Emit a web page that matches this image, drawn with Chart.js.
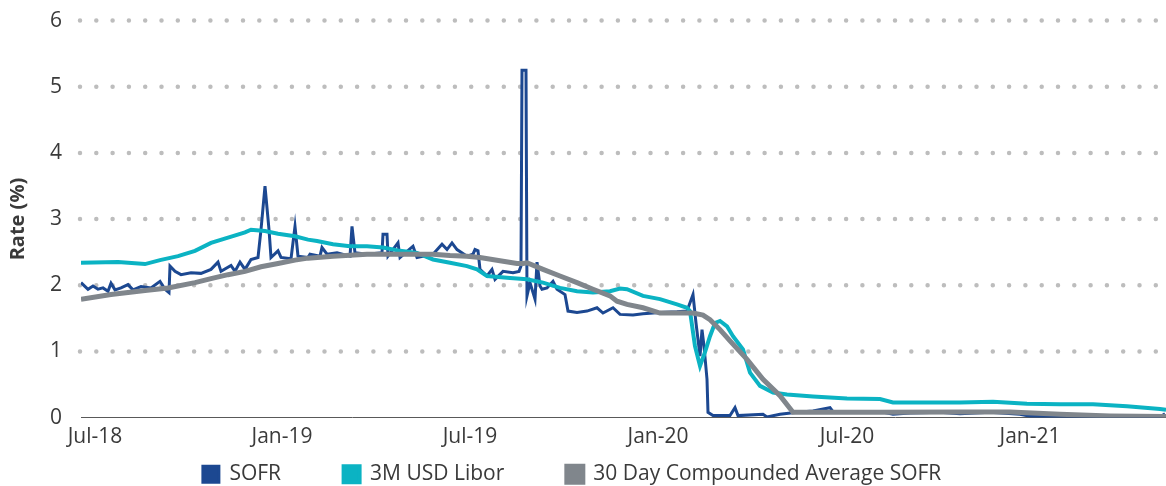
<!DOCTYPE html>
<html>
<head>
<meta charset="utf-8">
<script src="https://cdn.jsdelivr.net/npm/chart.js@4.4.1/dist/chart.umd.min.js"></script>
<style>
  html, body { margin: 0; padding: 0; background: #fff; }
  #wrap { width: 1166px; height: 486px; }
</style>
</head>
<body>
<div id="wrap"><canvas id="rates"></canvas></div>
<script>
// x values are days from the start of the axis (early Jul-18)
const tickDays = [14, 201, 389, 577, 766, 949];
const tickLabels = ['Jul-18', 'Jan-19', 'Jul-19', 'Jan-20', 'Jul-20', 'Jan-21'];

const sofrDays = [0, 7, 12, 17, 22, 27, 30, 34, 40, 47, 52, 60, 70, 79, 84, 88, 89, 94, 100, 110,
  120, 130, 137, 140, 150, 154, 159, 164, 170, 177, 180, 184, 188, 190, 197, 200, 210, 214, 217, 227,
  229, 239, 241, 246, 256, 269, 271, 274, 286, 301, 302, 306, 307, 317, 319, 332, 336, 352, 361, 366,
  371, 376, 386, 392, 394, 397, 399, 406, 411, 414, 422, 432, 438, 440, 441, 445, 446, 449, 454, 456,
  459, 461, 466, 472, 476, 484, 487, 496, 506, 516, 522, 532, 539, 552, 562, 579, 596, 606, 612, 615,
  619, 621, 623, 626, 627, 632, 649, 654, 657, 682, 686, 699, 716, 732, 749, 752, 766, 799, 812, 829,
  859, 879, 909, 939, 949, 979, 1012, 1049, 1079, 1084];
const sofrRates = [2.04, 1.94, 1.99, 1.94, 1.96, 1.91, 2.03, 1.93, 1.96, 2.01, 1.93, 1.98, 1.96, 2.06, 1.94, 1.89, 2.29, 2.21, 2.16, 2.19,
  2.18, 2.24, 2.35, 2.21, 2.30, 2.21, 2.35, 2.24, 2.39, 2.42, 2.84, 3.50, 2.84, 2.42, 2.52, 2.42, 2.40, 2.89, 2.44, 2.42,
  2.47, 2.44, 2.57, 2.47, 2.49, 2.44, 2.89, 2.49, 2.47, 2.49, 2.77, 2.77, 2.44, 2.64, 2.42, 2.59, 2.42, 2.47, 2.62, 2.54,
  2.64, 2.54, 2.44, 2.47, 2.54, 2.52, 2.24, 2.14, 2.24, 2.09, 2.21, 2.19, 2.21, 2.29, 5.25, 5.25, 1.84, 2.04, 1.79, 2.35,
  1.99, 1.94, 1.96, 2.06, 1.94, 1.86, 1.61, 1.59, 1.61, 1.66, 1.58, 1.66, 1.56, 1.55, 1.57, 1.59, 1.60, 1.61, 1.86, 1.43,
  0.93, 1.33, 1.08, 0.58, 0.08, 0.03, 0.03, 0.15, 0.03, 0.05, 0.01, 0.05, 0.08, 0.10, 0.15, 0.09, 0.09, 0.09, 0.05, 0.07,
  0.08, 0.06, 0.08, 0.05, 0.02, 0.01, 0.01, 0.01, 0.01, 0.06];

const liborDays = [0, 37, 64, 79, 97, 114, 130, 147, 164, 170, 184, 197, 214, 227, 236, 252, 269, 286, 302, 319,
  336, 352, 369, 386, 396, 406, 429, 446, 462, 479, 496, 512, 529, 539, 546, 562, 579, 596, 606, 609,
  614, 619, 624, 629, 634, 639, 646, 652, 662, 669, 679, 692, 706, 732, 766, 799, 812, 846, 879, 912,
  946, 979, 1012, 1046, 1079, 1085];
const liborRates = [2.34, 2.35, 2.32, 2.38, 2.44, 2.52, 2.64, 2.72, 2.80, 2.84, 2.82, 2.78, 2.74, 2.69, 2.67, 2.62, 2.59, 2.59, 2.57, 2.52,
  2.49, 2.39, 2.34, 2.29, 2.24, 2.14, 2.11, 2.09, 2.04, 1.96, 1.91, 1.89, 1.91, 1.95, 1.94, 1.84, 1.79, 1.71, 1.66, 1.61,
  1.08, 0.78, 0.99, 1.23, 1.43, 1.46, 1.38, 1.23, 1.03, 0.68, 0.48, 0.38, 0.35, 0.32, 0.29, 0.28, 0.23, 0.23, 0.23, 0.24,
  0.21, 0.20, 0.20, 0.17, 0.13, 0.12];

const avgDays = [0, 30, 64, 87, 114, 130, 147, 164, 180, 197, 214, 227, 252, 286, 319, 352, 369, 386, 399, 419,
  436, 442, 446, 462, 479, 496, 512, 529, 536, 546, 562, 579, 612, 622, 629, 639, 649, 666, 682, 699,
  712, 732, 799, 879, 929, 979, 1029, 1085];
const avgRates = [1.79, 1.86, 1.92, 1.96, 2.04, 2.10, 2.16, 2.21, 2.28, 2.33, 2.38, 2.41, 2.44, 2.47, 2.47, 2.47, 2.45, 2.44, 2.42, 2.37,
  2.33, 2.33, 2.34, 2.24, 2.14, 2.04, 1.94, 1.84, 1.76, 1.71, 1.66, 1.58, 1.58, 1.55, 1.48, 1.33, 1.16, 0.88, 0.58, 0.33,
  0.08, 0.08, 0.08, 0.085, 0.085, 0.05, 0.025, 0.015];

// spacing after each legend entry, by dataset index
const legendGaps = [10, 10, 4];

const toPoints = (days, rates) => days.map((d, i) => ({ x: d, y: rates[i] }));

const dottedGrid = {
  id: 'dottedGrid',
  beforeDatasetsDraw(chart) {
    const { ctx, chartArea, scales: { y } } = chart;
    ctx.save();
    ctx.strokeStyle = '#bdbdbd';
    ctx.lineWidth = 4.5;
    ctx.lineCap = 'round';
    ctx.setLineDash([0, 16.3]);
    y.ticks.forEach(t => {
      if (t.value === 0) return;
      const py = y.getPixelForValue(t.value);
      ctx.beginPath();
      ctx.moveTo(chartArea.left - 1, py);
      ctx.lineTo(chartArea.right, py);
      ctx.stroke();
    });
    ctx.restore();
  }
};

const textColor = '#3a3a3a';
Chart.defaults.font.family = '"Open Sans", "Noto Sans", sans-serif';

new Chart(document.getElementById('rates'), {
  type: 'line',
  data: {
    datasets: [
      {
        label: 'SOFR',
        data: toPoints(sofrDays, sofrRates),
        borderColor: '#1c4891',
        backgroundColor: '#1c4891',
        borderWidth: 3,
        order: 3
      },
      {
        label: '3M USD Libor',
        data: toPoints(liborDays, liborRates),
        borderColor: '#0bb3c3',
        backgroundColor: '#0bb3c3',
        borderWidth: 4,
        order: 2
      },
      {
        label: '30 Day Compounded Average SOFR',
        data: toPoints(avgDays, avgRates),
        borderColor: '#80868c',
        backgroundColor: '#80868c',
        borderWidth: 5,
        order: 1
      }
    ]
  },
  options: {
    responsive: true,
    maintainAspectRatio: false,
    animation: false,
    layout: { padding: { top: 2, right: 0, bottom: -8.8, left: 0 } },
    elements: { point: { radius: 0 }, line: { tension: 0 } },
    scales: {
      x: {
        type: 'linear',
        min: 0,
        max: 1085,
        grid: { display: false, drawTicks: false },
        border: { display: true, color: '#595959', width: 1 },
        afterBuildTicks: s => { s.ticks = tickDays.map(v => ({ value: v })); },
        ticks: {
          autoSkip: false,
          maxRotation: 0,
          padding: 6.5,
          color: textColor,
          font: { size: 21 },
          callback: (v, i) => tickLabels[i]
        }
      },
      y: {
        min: 0,
        max: 6,
        grid: { display: false, drawTicks: true, tickLength: 11 },
        border: { display: false },
        afterFit: s => { s.width = 81; },
        ticks: { stepSize: 1, padding: 8, color: textColor, font: { size: 21 } },
        title: {
          display: true,
          text: 'Rate (%)',
          color: textColor,
          font: { size: 20, weight: 'bold' },
          padding: { top: 6 }
        }
      }
    },
    plugins: {
      tooltip: { enabled: false },
      legend: {
        position: 'bottom',
        labels: {
          boxWidth: 16,
          boxHeight: 16,
          padding: 8,
          color: textColor,
          font: { size: 21 },
          sort: (a, b) => a.datasetIndex - b.datasetIndex,
          generateLabels: chart => {
            const items = Chart.defaults.plugins.legend.labels.generateLabels(chart);
            items.forEach(it => { it.text += ' '.repeat(legendGaps[it.datasetIndex]); });
            return items;
          }
        }
      }
    }
  },
  plugins: [dottedGrid]
});
</script>
</body>
</html>
